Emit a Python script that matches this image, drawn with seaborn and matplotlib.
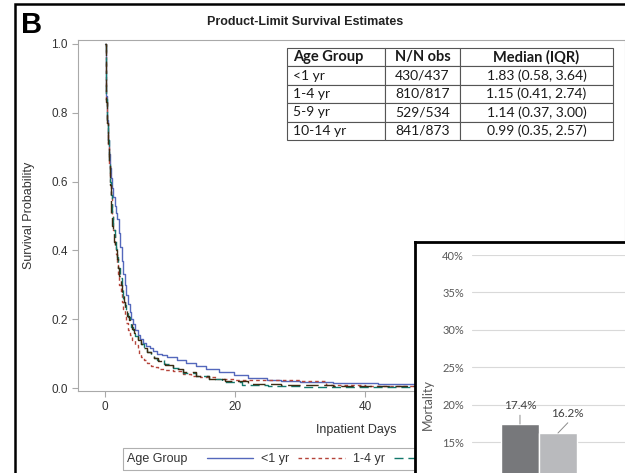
import numpy as np
import pandas as pd
import matplotlib
matplotlib.use("Agg")
import matplotlib.pyplot as plt
import matplotlib.patches as mpatches
from matplotlib.ticker import FormatStrFormatter, PercentFormatter
import seaborn as sns

# Kaplan-Meier curves (days, survival probability)
groups = ["<1 yr", "1-4 yr", "5-9 yr", "10-14 yr"]

days_lt1 = [0, 0.1, 0.2, 0.35, 0.5, 0.65, 0.8, 0.95, 1.1, 1.3,
            1.5, 1.7, 1.9, 2.1, 2.3, 2.55, 2.8, 3.05, 3.3, 3.55,
            3.8, 4.05, 4.3, 4.65, 5.0, 5.4, 5.8, 6.3, 6.9, 7.4,
            8.0, 8.7, 9.5, 11, 12.5, 14, 15.6, 17.5, 19.8, 22,
            24.9, 27, 30, 35, 42, 48, 80]
surv_lt1 = [1.0, 0.93, 0.85, 0.78, 0.72, 0.68, 0.64, 0.61, 0.58, 0.555,
            0.53, 0.51, 0.49, 0.45, 0.41, 0.37, 0.33, 0.30, 0.27, 0.245,
            0.22, 0.20, 0.185, 0.17, 0.155, 0.142, 0.13, 0.122, 0.115, 0.108,
            0.10, 0.095, 0.09, 0.08, 0.072, 0.063, 0.055, 0.046, 0.038, 0.03,
            0.023, 0.02, 0.017, 0.014, 0.012, 0.01, 0.01]

days_1_4 = [0, 0.08, 0.15, 0.25, 0.4, 0.55, 0.7, 0.85, 1.0, 1.15,
            1.3, 1.5, 1.65, 1.8, 2.0, 2.2, 2.4, 2.6, 2.8, 3.0,
            3.3, 3.6, 3.9, 4.2, 4.6, 5.0, 5.3, 5.6, 6.0, 6.4,
            7.0, 7.5, 8.2, 9, 10.5, 12, 13.2, 14.6, 17, 20,
            24, 30, 34, 40, 80]
surv_1_4 = [1.0, 0.92, 0.83, 0.77, 0.70, 0.65, 0.60, 0.56, 0.53, 0.50,
            0.46, 0.42, 0.39, 0.36, 0.33, 0.30, 0.275, 0.25, 0.23, 0.21,
            0.19, 0.17, 0.155, 0.14, 0.125, 0.11, 0.10, 0.09, 0.08, 0.072,
            0.065, 0.06, 0.056, 0.052, 0.048, 0.04, 0.036, 0.032, 0.027, 0.023,
            0.022, 0.02, 0.01, 0.005, 0.005]

days_5_9 = [0, 0.08, 0.15, 0.25, 0.4, 0.55, 0.7, 0.85, 1.0, 1.14,
            1.3, 1.5, 1.65, 1.8, 2.05, 2.3, 2.55, 2.8, 3.05, 3.3,
            3.55, 3.8, 4.05, 4.3, 4.65, 5.0, 5.5, 6.0, 6.5, 7.0,
            7.5, 8.0, 9.0, 10.5, 12, 14, 16, 18, 21, 25,
            30, 40, 80]
surv_5_9 = [1.0, 0.92, 0.84, 0.78, 0.72, 0.66, 0.60, 0.56, 0.53, 0.50,
            0.46, 0.43, 0.405, 0.38, 0.35, 0.32, 0.29, 0.26, 0.24, 0.22,
            0.205, 0.19, 0.178, 0.165, 0.152, 0.14, 0.127, 0.115, 0.105, 0.095,
            0.087, 0.08, 0.07, 0.058, 0.045, 0.035, 0.025, 0.018, 0.01, 0.006,
            0.004, 0.004, 0.004]

days_10_14 = [0, 0.08, 0.15, 0.25, 0.4, 0.55, 0.7, 0.85, 0.99, 1.15,
              1.3, 1.45, 1.6, 1.8, 2.0, 2.2, 2.4, 2.65, 2.9, 3.15,
              3.4, 3.65, 3.9, 4.15, 4.4, 4.7, 5.0, 5.5, 6.0, 6.5,
              7.0, 7.6, 8.2, 9.2, 10.5, 12, 14, 16, 18.5, 22,
              27, 35, 45, 80]
surv_10_14 = [1.0, 0.91, 0.83, 0.77, 0.70, 0.645, 0.59, 0.545, 0.50, 0.47,
              0.45, 0.425, 0.40, 0.375, 0.35, 0.325, 0.30, 0.275, 0.25, 0.23,
              0.21, 0.197, 0.185, 0.172, 0.16, 0.15, 0.14, 0.127, 0.115, 0.105,
              0.095, 0.086, 0.078, 0.068, 0.056, 0.046, 0.036, 0.027, 0.02, 0.012,
              0.008, 0.006, 0.006, 0.006]

# summary table
table_cols = ["Age Group", "N/N obs", "Median (IQR)"]
n_obs = ["430/437", "810/817", "529/534", "841/873"]
median_iqr = ["1.83 (0.58, 3.64)", "1.15 (0.41, 2.74)", "1.14 (0.37, 3.00)", "0.99 (0.35, 2.57)"]

# inset bar chart (only the visible part)
bar_set = ["All", "All"]
bar_groups = ["Group 1", "Group 2"]
mortality = [0.174, 0.162]
mortality_ticks = [0.15, 0.20, 0.25, 0.30, 0.35, 0.40]

sns.set_style("white")
plt.rcParams["font.family"] = ["Liberation Sans", "DejaVu Sans"]
calibri_like = ["Lato", "DejaVu Sans"]

W, H = 625, 473
fig = plt.figure(figsize=(6.25, 4.73), dpi=100)


def fx(px):
    return px / W


def fy(py):
    return 1 - py / H


# main KM plot
ax = fig.add_axes([fx(78), fy(391), fx(625) - fx(78), fy(40) - fy(391)])

km = pd.concat([
    pd.DataFrame({"days": d, "surv": s, "group": g})
    for g, d, s in zip(groups, [days_lt1, days_1_4, days_5_9, days_10_14],
                       [surv_lt1, surv_1_4, surv_5_9, surv_10_14])
])
palette = {"<1 yr": "#5468bc", "1-4 yr": "#b5443a", "5-9 yr": "#12786b", "10-14 yr": "#3d2c12"}
dashes = {"<1 yr": "", "1-4 yr": (2.6, 2.2), "5-9 yr": (6.5, 3.5), "10-14 yr": (9, 4)}

sns.lineplot(data=km, x="days", y="surv", hue="group", style="group",
             hue_order=groups, style_order=groups, palette=palette, dashes=dashes,
             estimator=None, drawstyle="steps-post", lw=1, legend=False, ax=ax)

ax.set_xlim(-4.154, 80)
ax.set_ylim(-0.0087, 1.0116)
ax.set_xticks([0, 20, 40])
ax.set_yticks(np.arange(0, 1.01, 0.2))
ax.yaxis.set_major_formatter(FormatStrFormatter("%.1f"))
for s in ax.spines.values():
    s.set_color("#a9a9a9")
    s.set_linewidth(0.8)
ax.tick_params(bottom=True, left=True, direction="out", length=4.3, width=0.8,
               color="#a9a9a9", labelsize=8.5, labelcolor="#333333", pad=3)
ax.set_xlabel("Inpatient Days", fontsize=9, color="#333333", va="top")
ax.set_ylabel("Survival Probability", fontsize=9, color="#333333")
ax.xaxis.set_label_coords((356 - 78) / 547, (391 - 424) / 351)
ax.yaxis.set_label_coords((35 - 78) / 547, 0.5)

# table
cell_text = [[a, n, m] for a, n, m in zip(groups, n_obs, median_iqr)]
tbl = ax.table(cellText=cell_text, colLabels=table_cols, colWidths=[98, 75, 153],
               cellLoc="center", bbox=[(287 - 78) / 547, (391 - 140) / 351, 326 / 547, 92 / 351])
tbl.auto_set_font_size(False)
for (r, c), cell in tbl.get_celld().items():
    cell.set_edgecolor("#555555")
    cell.set_linewidth(0.8)
    t = cell.get_text()
    t.set_fontfamily(calibri_like)
    t.set_fontsize(10)
    t.set_color("#1a1a1a")
    if r == 0:
        t.set_fontweight("bold")
        t.set_fontsize(10.5)
    if c == 0:
        cell._loc = "left"
        cell.PAD = 0.06
        t.set_ha("left")

# legend of the KM plot
leg = ax.legend(handles=ax.lines[:4], labels=groups, ncol=4, frameon=False,
                loc="center left", bbox_to_anchor=(fx(207), fy(459)),
                bbox_transform=fig.transFigure, borderpad=0, borderaxespad=0,
                fontsize=9, handlelength=3.7, handletextpad=0.65, columnspacing=0.7)
for t in leg.get_texts():
    t.set_color("#333333")
ax.text(fx(127), fy(459), "Age Group", transform=fig.transFigure, fontsize=9,
        color="#333333", ha="left", va="center")
ax.add_patch(mpatches.Rectangle((fx(123), fy(470)), fx(700) - fx(123), fy(448) - fy(470),
                                transform=fig.transFigure, fill=False, ec="#b0b0b0", lw=0.8,
                                clip_on=False))

# panel title, letter, outer frame
fig.text(fx(305), fy(22), "Product-Limit Survival Estimates", ha="center", va="center",
         fontsize=9, fontweight="bold", color="#222222",
         family=["Liberation Sans Narrow", "Liberation Sans"])
fig.text(fx(21), fy(33), "B", ha="left", va="baseline", fontsize=21, fontweight="bold",
         color="black")
fig.add_artist(mpatches.Rectangle((fx(15), fy(700)), 1.5, fy(4) - fy(700),
                                  transform=fig.transFigure, fill=False, ec="black", lw=1.8))

# inset panel with mortality bars
panel = fig.add_axes([fx(415), fy(700), fx(800) - fx(415), fy(242) - fy(700)])
panel.set_xticks([])
panel.set_yticks([])
panel.set_facecolor("white")
for s in panel.spines.values():
    s.set_color("black")
    s.set_linewidth(2)

bx_w = 700 - 472
bx = fig.add_axes([fx(472), fy(554.2), fx(700) - fx(472), fy(255) - fy(554.2)])
bx.patch.set_visible(False)
bars = pd.DataFrame({"set": bar_set, "group": bar_groups, "mortality": mortality})
sns.barplot(data=bars, x="set", y="mortality", hue="group", palette=["#77787b", "#b9babd"],
            saturation=1, width=0.8, errorbar=None, legend=False, ax=bx, zorder=2)
bx.set_xlim(-0.705, 1.695)
bx.set_ylim(0, 0.40)
bx.set_yticks(mortality_ticks)
bx.yaxis.set_major_formatter(PercentFormatter(1.0, decimals=0))
bx.yaxis.grid(True, color="#d9d9d9", lw=0.8)
bx.set_axisbelow(True)
for s in bx.spines.values():
    s.set_visible(False)
bx.tick_params(left=False, bottom=False, length=0, labelsize=8, labelcolor="#595959", pad=5.8)
for lab in bx.get_yticklabels():
    lab.set_fontfamily(calibri_like)
bx.set_xlabel("")
bx.set_xticks([])
bx.set_ylabel("Mortality", fontsize=9, color="#595959", family=calibri_like)
bx.yaxis.set_label_coords((434 - 472) / bx_w, 0.5)

offsets = [(0, 13.7), (6.5, 14.4)]
relpos = [(0.5, 0), (0.65, 0)]
for p, off, rp in zip(bx.patches, offsets, relpos):
    xc = p.get_x() + p.get_width() / 2
    top = p.get_height()
    bx.annotate(f"{top:.1%}", xy=(xc, top), xytext=off, textcoords="offset points",
                ha="center", va="center", fontsize=8.5, color="#404040", family=calibri_like,
                arrowprops=dict(arrowstyle="-", color="#8c8c8c", lw=0.7, shrinkA=1, shrinkB=0,
                                relpos=rp))

fig.savefig("out.png", dpi=100)
